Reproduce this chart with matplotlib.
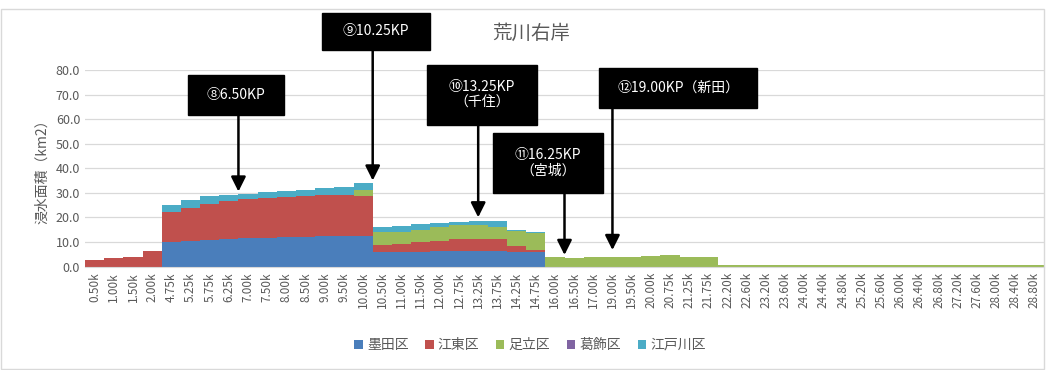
import matplotlib
matplotlib.use('Agg')
import matplotlib.pyplot as plt
from matplotlib.patches import Rectangle
import numpy as np

plt.rcParams['font.family'] = ['Noto Sans CJK JP', 'DejaVu Sans']

# data to plot (浸水面積 km2)
categories = ['0.50k', '1.00k', '1.50k', '2.00k', '4.75k', '5.25k', '5.75k', '6.25k',
              '7.00k', '7.50k', '8.00k', '8.50k', '9.00k', '9.50k', '10.00k', '10.50k',
              '11.00k', '11.50k', '12.00k', '12.75k', '13.25k', '13.75k', '14.25k', '14.75k',
              '16.00k', '16.50k', '17.00k', '19.00k', '19.50k', '20.00k', '20.75k', '21.25k',
              '21.75k', '22.20k', '22.60k', '23.20k', '23.60k', '24.00k', '24.40k', '24.80k',
              '25.20k', '25.60k', '26.00k', '26.40k', '26.80k', '27.20k', '27.60k', '28.00k',
              '28.40k', '28.80k']

sumida = [0, 0, 0, 0, 10.0, 10.5, 10.9, 11.2, 11.4, 11.7, 12.0, 12.2, 12.3, 12.5, 12.6,
          6.0, 6.0, 6.1, 6.2, 6.3, 6.3, 6.2, 6.1, 6.0,
          0, 0, 0, 0, 0, 0, 0, 0, 0] + [0] * 17
koto = [2.8, 3.3, 3.8, 6.2, 12.2, 13.5, 14.5, 15.3, 16.1, 16.2, 16.2, 16.4, 16.7, 16.7, 16.3,
        2.8, 3.3, 3.7, 4.2, 4.7, 5.0, 4.8, 2.1, 0.7,
        0, 0, 0, 0, 0, 0, 0, 0, 0] + [0] * 17
adachi = [0, 0, 0, 0, 0, 0, 0, 0, 0, 0, 0, 0, 0, 0, 2.1,
          5.4, 4.9, 5.2, 5.6, 5.9, 5.6, 5.2, 6.1, 6.8,
          3.9, 3.5, 3.8, 3.9, 4.0, 4.1, 4.6, 3.9, 3.7] + [0.6] * 15 + [0.5, 0.6]
katsushika = [0] * 50
edogawa = [0, 0, 0, 0, 3.0, 3.2, 3.4, 2.8, 2.1, 2.4, 2.6, 2.7, 2.9, 3.1, 3.0,
           1.8, 2.1, 2.2, 1.9, 1.4, 1.8, 2.3, 0.6, 0.5,
           0, 0, 0, 0, 0, 0, 0, 0, 0] + [0] * 17

series = [('墨田区', sumida, '#4a7ebb'),
          ('江東区', koto, '#c0504d'),
          ('足立区', adachi, '#9bbb59'),
          ('葛飾区', katsushika, '#8064a2'),
          ('江戸川区', edogawa, '#4bacc6')]

# annotations: text, x position (category index), arrow tip value, box (px: x0, y0, x1, y1)
notes = [('⑧6.50KP', 7.5, 30.5, (188, 75, 284, 115)),
         ('⑨10.25KP', 14.5, 35.0, (322, 13, 430, 50)),
         ('⑩13.25KP\n（千住）', 20, 20.0, (427, 65, 537, 125)),
         ('⑪16.25KP\n（宮城）', 24.5, 4.7, (493, 133, 603, 193)),
         ('⑫19.00KP（新田）', 27, 6.7, (599, 68, 757, 108))]

W, H = 1046, 370
fig = plt.figure(figsize=(W / 100, H / 100), dpi=100)
ax = fig.add_axes([85 / W, 1 - 266.5 / H, 959 / W, 196.5 / H])

index = np.arange(len(categories))
bottom = np.zeros(len(categories))
for name, vals, col in series:
    vals = np.array(vals, dtype=float)
    ax.bar(index, vals, 1.0, bottom=bottom, color=col, label=name, linewidth=0)
    bottom += vals

ax.set_xlim(-0.5, len(categories) - 0.5)
ax.set_ylim(0, 80)
ax.set_yticks(np.arange(0, 81, 10))
ax.set_yticklabels(['%.1f' % v for v in np.arange(0, 81, 10)])
ax.set_xticks(index)
ax.set_xticklabels(categories, rotation=90)
ax.tick_params(axis='both', length=0, colors='#595959', labelsize=9)
ax.tick_params(axis='x', labelsize=8.5, pad=4)
ax.grid(axis='y', color='#d9d9d9', linewidth=0.9)
ax.set_axisbelow(True)
for s in ['top', 'right', 'left']:
    ax.spines[s].set_visible(False)
ax.spines['bottom'].set_color('#d9d9d9')
ax.set_ylabel('浸水面積（km2）', color='#595959', fontsize=10, labelpad=5)

fig.text(531 / W, 1 - 33 / H, '荒川右岸', ha='center', va='center', fontsize=14, color='#595959')

for txt, xi, tip, (x0, y0, x1, y1) in notes:
    fig.patches.append(Rectangle((x0 / W, 1 - y1 / H), (x1 - x0) / W, (y1 - y0) / H,
                                 transform=fig.transFigure, facecolor='black', edgecolor='black'))
    fig.text((x0 + x1) / 2 / W, 1 - (y0 + y1) / 2 / H, txt, ha='center', va='center',
             color='white', fontsize=10, linespacing=1.2)
    start = (266.5 - y1) / 196.5 * 80
    ax.annotate('', xy=(xi, tip), xytext=(xi, start), annotation_clip=False,
                arrowprops=dict(arrowstyle='-|>', color='black', lw=1.8, mutation_scale=22,
                                shrinkA=0, shrinkB=0))

fig.legend(loc='center', bbox_to_anchor=(530 / W, 1 - 345 / H), ncol=5, frameon=False,
           fontsize=10, handlelength=0.6, handleheight=0.6, handletextpad=0.3,
           columnspacing=1.2, labelcolor='#595959')

fig.patches.append(Rectangle((1 / W, 1 / H), (W - 3) / W, (H - 10) / H, transform=fig.transFigure,
                             facecolor='none', edgecolor='#d9d9d9', lw=1))

plt.savefig('out.png', dpi=100)
